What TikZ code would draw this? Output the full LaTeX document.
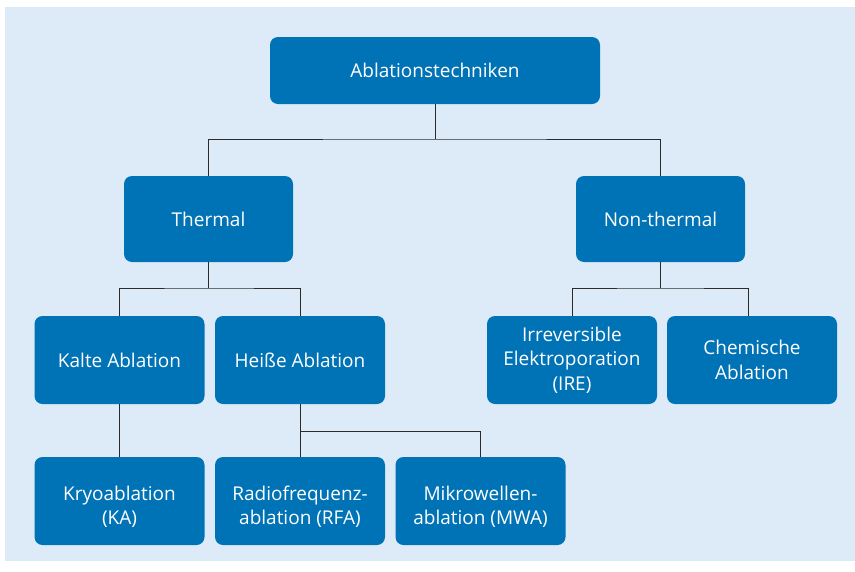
\documentclass[tikz,border=0pt]{standalone}
\usepackage{fontspec}
\setmainfont{Open Sans}
\definecolor{bgblue}{HTML}{DDEBF8}
\definecolor{boxblue}{HTML}{0073B7}
\definecolor{linegray}{HTML}{2B2B2B}
\begin{document}
\begin{tikzpicture}[x=1pt,y=-1pt,
  box/.style={draw=none,fill=boxblue,rounded corners=8pt,text=white,align=center,
    font=\fontsize{19}{24.5}\selectfont,inner sep=0pt,minimum height=88pt,minimum width=170pt},
  lowbox/.style={box,text height=50pt},
  conn/.style={draw=linegray,line width=1pt}]
\useasboundingbox (0,0) rectangle (855,571);
\fill[bgblue] (5,7) rectangle (855,561);
\node[box,minimum width=330pt,minimum height=67pt] (top) at (435,70.5) {Ablationstechniken};
\node[box,minimum width=169pt,minimum height=86pt] (thermal) at (208.5,219) {Thermal};
\node[box,minimum width=169pt,minimum height=86pt] (nonthermal) at (660.5,219) {Non-thermal};
\node[box] (kalt) at (119.5,360) {Kalte Ablation};
\node[box] (heiss) at (300,360) {Heiße Ablation};
\node[box] (ire) at (572,360) {Irreversible\\Elektroporation\\(IRE)};
\node[box] (chem) at (752,360) {Chemische\\Ablation};
\node[lowbox] (kryo) at (119.5,501) {Kryoablation\\(KA)};
\node[lowbox] (rfa) at (300,501) {Radiofrequenz-\\ablation (RFA)};
\node[lowbox] (mwa) at (480.5,501) {Mikrowellen-\\ablation (MWA)};
\coordinate (j1) at (435,139);
\coordinate (j2) at (208.5,288);
\coordinate (j3) at (660.5,288);
\coordinate (j4) at (300,431);
\coordinate (chemin) at (748,316);
\draw[conn] (top.south) -- (j1);
\draw[conn] (thermal.north) |- (j1) -| (nonthermal.north);
\draw[conn] (thermal.south) -- (j2);
\draw[conn] (kalt.north) |- (j2) -| (heiss.north);
\draw[conn] (nonthermal.south) -- (j3);
\draw[conn] (ire.north) |- (j3) -| (chemin);
\draw[conn] (kalt.south) -- (kryo.north);
\draw[conn] (heiss.south) -- (rfa.north);
\draw[conn] (j4) -| (mwa.north);
\end{tikzpicture}
\end{document}
